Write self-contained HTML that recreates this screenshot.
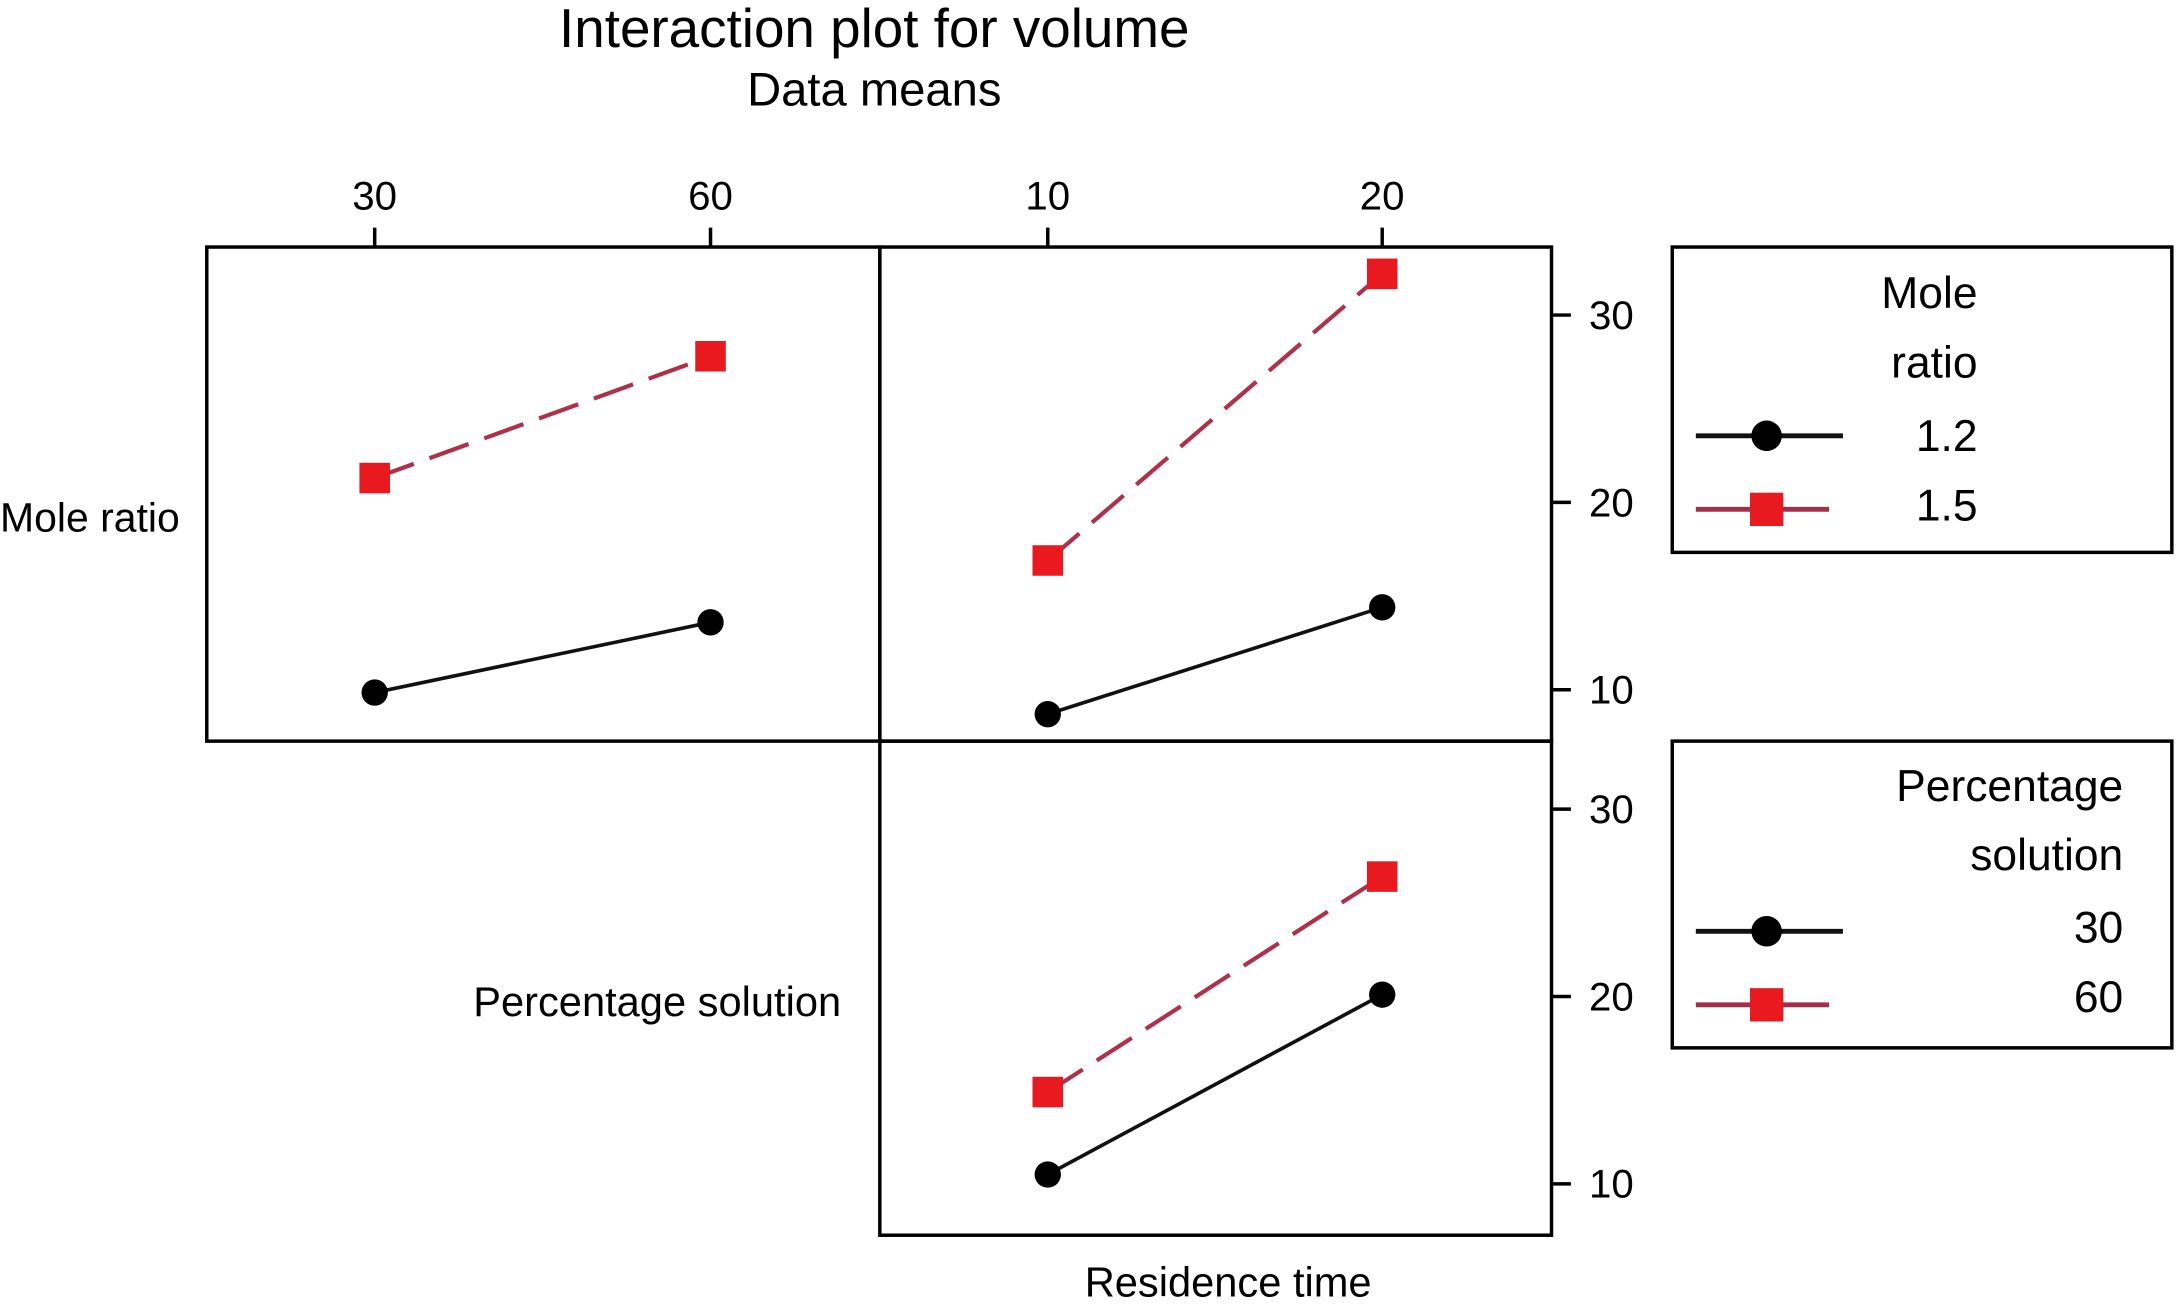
<!DOCTYPE html>
<html><head><meta charset="utf-8"><style>
html,body{margin:0;padding:0;background:#fff;}
svg{display:block;font-family:"Liberation Sans",sans-serif;}
</style></head><body>
<svg id="chart" width="2176" height="1306" viewBox="0 0 1568 941" preserveAspectRatio="none">
<text x="630" y="34" font-size="39.5" text-anchor="middle">Interaction plot for volume</text>
<text x="630" y="76" font-size="34" text-anchor="middle">Data means</text>
<g id="frames" fill="none" stroke="#000" stroke-width="2.5">
<rect x="149" y="178" width="485" height="356"/>
<rect x="634" y="178" width="484" height="356"/>
<rect x="634" y="534" width="484" height="356"/>
</g>
<g id="axes"></g>
<g id="marks"></g>
<text x="0" y="383" font-size="29.5">Mole ratio</text>
<text x="341" y="732" font-size="30">Percentage solution</text>
<text x="885" y="934" font-size="30" text-anchor="middle">Residence time</text>
<g>
<rect x="1205" y="178" width="360" height="220" fill="none" stroke="#000" stroke-width="2.5"/>
<text x="1425" y="222" font-size="32" text-anchor="end">Mole</text>
<text x="1425" y="272" font-size="32" text-anchor="end">ratio</text>
<line x1="1222" y1="314" x2="1328" y2="314" stroke="#111" stroke-width="3.5"/>
<circle cx="1273" cy="314" r="11" fill="#000"/>
<text x="1425" y="325" font-size="32" text-anchor="end">1.2</text>
<line x1="1222" y1="367" x2="1318" y2="367" stroke="#a0304a" stroke-width="3.5"/>
<rect x="1261" y="355" width="24" height="24" fill="#e8191f"/>
<text x="1425" y="375" font-size="32" text-anchor="end">1.5</text>
</g>
<g>
<rect x="1205" y="534" width="360" height="221" fill="none" stroke="#000" stroke-width="2.5"/>
<text x="1530" y="577" font-size="32" text-anchor="end">Percentage</text>
<text x="1530" y="627" font-size="32" text-anchor="end">solution</text>
<line x1="1222" y1="671" x2="1328" y2="671" stroke="#111" stroke-width="3.5"/>
<circle cx="1273" cy="671" r="11" fill="#000"/>
<text x="1530" y="679" font-size="32" text-anchor="end">30</text>
<line x1="1222" y1="724" x2="1318" y2="724" stroke="#a0304a" stroke-width="3.5"/>
<rect x="1261" y="712" width="24" height="24" fill="#e8191f"/>
<text x="1530" y="729" font-size="32" text-anchor="end">60</text>
</g>
</svg>
<script>
const pctLevels = [30, 60];
const resLevels = [10, 20];
const yTicks = [10, 20, 30];
// panel 1: volume by percentage, series mole ratio
const p1Mole12 = [9.85, 13.6];
const p1Mole15 = [21.3, 27.8];
// panel 2: volume by residence, series mole ratio
const p2Mole12 = [8.7, 14.4];
const p2Mole15 = [16.9, 32.2];
// panel 3: volume by residence, series percentage
const p3Pct30 = [10.5, 20.1];
const p3Pct60 = [14.9, 26.4];

const NS = "http://www.w3.org/2000/svg";
const axes = document.getElementById('axes');
const marks = document.getElementById('marks');
function mk(tag, attrs, parent){const e=document.createElementNS(NS,tag);for(const k in attrs)e.setAttribute(k,attrs[k]);parent.appendChild(e);return e;}
function xPct(v){return 270 + (v-30)/30*242;}
function xRes(v){return 755 + (v-10)/10*241;}
function yTop(v){return 362 - (v-20)*13.5;}
function yBot(v){return 718 - (v-20)*13.5;}

pctLevels.forEach(v=>{
  const x=xPct(v);
  const t=mk('line',{x1:x,y1:164,x2:x,y2:178,stroke:'#000','stroke-width':2.5},axes);
  
  
  const l=mk('text',{x:x,y:151,'font-size':29,'text-anchor':'middle'},axes);
  l.textContent=v;
  
  
});
resLevels.forEach(v=>{
  const x=xRes(v);
  const t=mk('line',{x1:x,y1:164,x2:x,y2:178,stroke:'#000','stroke-width':2.5},axes);
  
  
  const l=mk('text',{x:x,y:151,'font-size':29,'text-anchor':'middle'},axes);
  l.textContent=v;
  
  
});
[yTop,yBot].forEach(f=>{
  yTicks.forEach(v=>{
    const y=f(v);
    const t=mk('line',{x1:1118,y1:y,x2:1132,y2:y,stroke:'#000','stroke-width':2.5},axes);
    
    
    const l=mk('text',{x:1145,y:y+10,'font-size':29},axes);
    l.textContent=v;
    
    
  });
});
function series(xs, vals, fx, fy, red, name){
  const x1=fx(xs[0]),y1=fy(vals[0]),x2=fx(xs[1]),y2=fy(vals[1]);
  const ln=mk('line',{x1:x1,y1:y1,x2:x2,y2:y2,stroke:red?'#b0304a':'#111','stroke-width':red?3:2.6,'stroke-dasharray':red?'30 12':'none'},marks);
  
  
  xs.forEach((xv,i)=>{
    const x=fx(xv),y=fy(vals[i]);
    let m;
    if(red) m=mk('rect',{x:x-11,y:y-11,width:22,height:22,fill:'#e8191f'},marks);
    else m=mk('circle',{cx:x,cy:y,r:9.5,fill:'#000'},marks);
    
    
  });
}
series(pctLevels,p1Mole12,xPct,yTop,false,'mole-1-2-by-percentage');
series(pctLevels,p1Mole15,xPct,yTop,true,'mole-1-5-by-percentage');
series(resLevels,p2Mole12,xRes,yTop,false,'mole-1-2-by-residence');
series(resLevels,p2Mole15,xRes,yTop,true,'mole-1-5-by-residence');
series(resLevels,p3Pct30,xRes,yBot,false,'percentage-30-by-residence');
series(resLevels,p3Pct60,xRes,yBot,true,'percentage-60-by-residence');
</script>
</body></html>
